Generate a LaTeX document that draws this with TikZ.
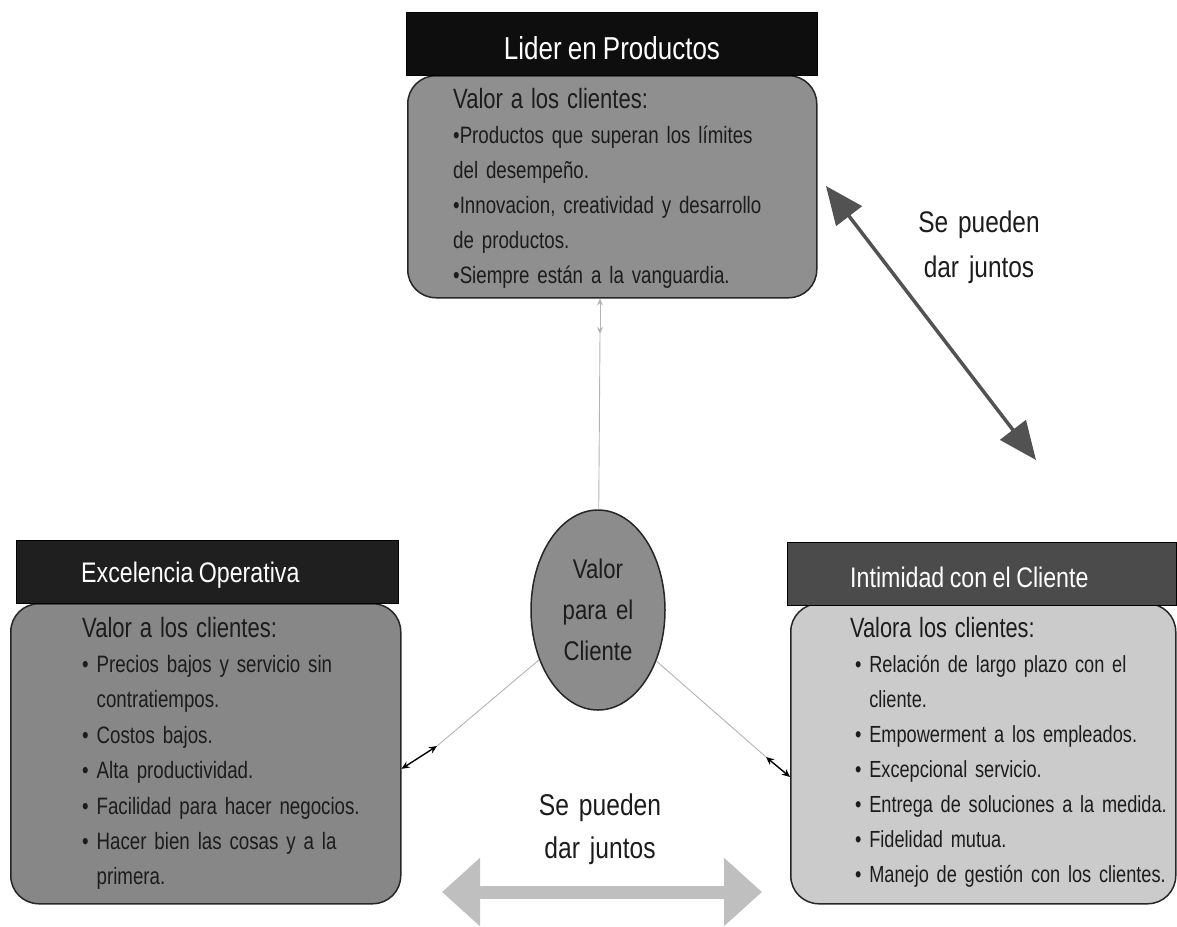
\documentclass[tikz,border=0pt]{standalone}
\usepackage{fontspec}
\setmainfont{Liberation Sans}[FakeStretch=0.82,WordSpace=0.85]
\newfontfamily\bodyfont{Liberation Sans}[FakeStretch=0.79,WordSpace=0.8]
\newfontfamily\bodyfontR{Liberation Sans}[FakeStretch=0.78,WordSpace=0.8]
\usetikzlibrary{shapes.geometric,arrows.meta,calc}

\definecolor{ink}{HTML}{1C1C1C}
\definecolor{hdrtop}{HTML}{0E0E0E}
\definecolor{hdrleft}{HTML}{1F1F1F}
\definecolor{hdrright}{HTML}{4B4B4B}
\definecolor{paneltop}{HTML}{8F8F8F}
\definecolor{panelleft}{HTML}{878787}
\definecolor{panelright}{HTML}{CBCBCB}
\definecolor{corefill}{HTML}{8C8C8C}
\definecolor{linegray}{HTML}{B4B4B4}
\definecolor{arrowgray}{HTML}{525252}
\definecolor{pale}{HTML}{BFBFBF}

\tikzset{
  header/.style={draw=black, line width=1.2pt, anchor=north west, inner sep=0pt, minimum height=63pt},
  panel/.style={draw=black!85, line width=1.5pt, rounded corners=28pt, anchor=north west, inner sep=0pt},
  titletext/.style={text=white, inner sep=0pt, font=\fontsize{28.3}{34}\selectfont},
  bodytext/.style={text=ink, inner sep=0pt, anchor=base west, align=left, font=\bodyfont\fontsize{23.7}{35}\selectfont},
  note/.style={text=ink, inner sep=0pt, anchor=base, align=center, text width=200pt, font=\fontsize{29.8}{45}\selectfont},
  faint/.style={draw=linegray, line width=0.9pt},
  tinyarrow/.style={{Stealth[length=8pt,width=7pt]}-{Stealth[length=8pt,width=7pt]}, line width=1.4pt, draw=black},
}
\newcommand{\leadline}[1]{{\fontsize{27.9}{35}\selectfont #1}}
\hyphenpenalty=10000
\exhyphenpenalty=10000

\begin{document}
\begin{tikzpicture}[x=1pt,y=-1pt]
\useasboundingbox (0,0) rectangle (1177,926);

% ---- Lider en Productos ----
\node[panel, fill=paneltop, minimum width=409pt, minimum height=222pt] (bodyA) at (407,75) {};
\node[header, fill=hdrtop, minimum width=411pt] (hdrA) at (406,12) {};
\node[titletext, anchor=base, font=\fontsize{31.7}{36}\selectfont] (titleA) at (612,59) {Lider en Productos};
\node[bodytext, text width=360pt] (textA) at (453,108) {\leadline{Valor a los clientes:}\\
•Productos que superan los límites\\
del desempeño.\\
•Innovacion, creatividad y desarrollo\\
de productos.\\
•Siempre están a la vanguardia.};

% ---- Excelencia Operativa ----
\node[panel, fill=panelleft, minimum width=390pt, minimum height=300pt] (bodyL) at (10,603) {};
\node[header, fill=hdrleft, minimum width=382pt] (hdrL) at (16,540) {};
\node[titletext, anchor=base west] (titleL) at (81,582) {Excelencia Operativa};
\node[bodytext, text width=310pt, font=\bodyfont\fontsize{23.7}{35.4}\selectfont] (textL) at (82,637) {\leadline{Valor a los clientes:}\\
• Precios bajos y servicio sin\\
\phantom{• }contratiempos.\\
• Costos bajos.\\
• Alta productividad.\\
• Facilidad para hacer negocios.\\
• Hacer bien las cosas y a la\\
\phantom{• }primera.};

% ---- Intimidad con el Cliente ----
\node[panel, fill=panelright, minimum width=385pt, minimum height=300pt] (bodyR) at (790,603) {};
\node[header, fill=hdrright, minimum width=389pt] (hdrR) at (787,542) {};
\node[titletext, anchor=base west] (titleR) at (850,587) {Intimidad con el Cliente};
\node[bodytext, text width=360pt, font=\bodyfontR\fontsize{23.3}{35}\selectfont] (textR) at (850,637) {\leadline{Valora los clientes:}\\
\hspace*{5pt}• Relación de largo plazo con el\\
\hspace*{5pt}\phantom{• }cliente.\\
\hspace*{5pt}• Empowerment a los empleados.\\
\hspace*{5pt}• Excepcional servicio.\\
\hspace*{5pt}• Entrega de soluciones a la medida.\\
\hspace*{5pt}• Fidelidad mutua.\\
\hspace*{5pt}• Manejo de gestión con los clientes.};

% ---- centre ----
\node[ellipse, draw=black!85, line width=1.5pt, fill=corefill, minimum width=134pt, minimum height=200pt,
      inner sep=0pt, text width=80pt, align=center, text=ink, font=\fontsize{27}{41}\selectfont] (core) at (598,610)
      {Valor\\para el\\Cliente};

% ---- links from the centre ----
\coordinate (cL) at (437,746);
\coordinate (cR) at (766,757);
\coordinate (cT) at (600,334);
\draw[faint] (core) -- (cL);
\draw[tinyarrow] (cL) -- ($(bodyL.north east)!0.55!(bodyL.south east)$);
\draw[faint] (core) -- (cR);
\draw[tinyarrow] (cR) -- ($(bodyR.north west)!0.577!(bodyR.south west)$);
\draw[faint] (core) -- (cT);
\draw[faint, {Stealth[length=7pt,width=6pt]}-{Stealth[length=7pt,width=6pt]}] (cT) -- (cT |- bodyA.south);

% ---- "Se pueden dar juntos" arrows ----
\coordinate (dA) at (826,186);
\coordinate (dB) at (1036,460);
\draw[draw=arrowgray, line width=3.5pt, {Triangle[length=38pt,width=32pt]}-{Triangle[length=38pt,width=32pt]}] (dA) -- (dB);
\node[note] (noteR) at (979,232) {Se pueden\\dar juntos};

\coordinate (bA) at (442,892);
\coordinate (bB) at (762,892);
\draw[draw=pale, line width=13pt, {Triangle[length=38pt,width=66pt]}-{Triangle[length=38pt,width=66pt]}] (bA) -- (bB);
\node[note, font=\fontsize{30}{43}\selectfont] (noteB) at (600,815) {Se pueden\\dar juntos};
\end{tikzpicture}
\end{document}
